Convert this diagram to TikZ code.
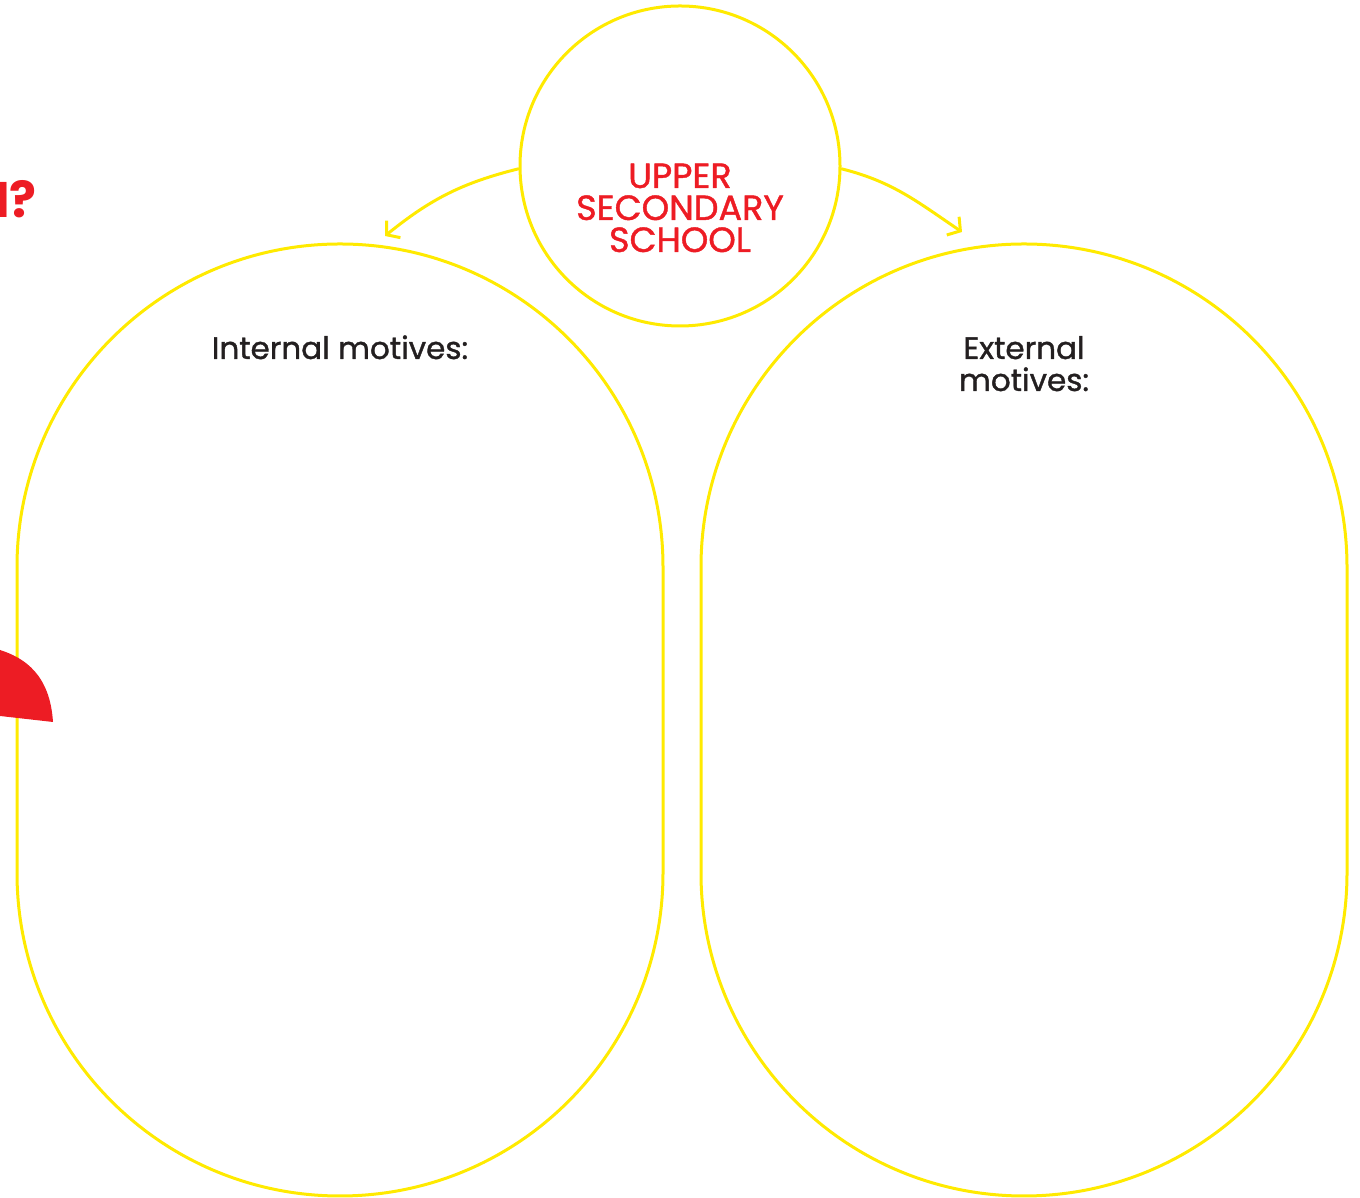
\documentclass[tikz,border=0pt]{standalone}
\usepackage{fontspec}
\setmainfont{Poppins}
\newfontfamily\labelfont{Poppins}[FakeBold=1.2]
\usetikzlibrary{arrows.meta}
\definecolor{signyellow}{HTML}{FFEA00}
\definecolor{signred}{HTML}{ED1C24}
\definecolor{inktext}{HTML}{231F20}
\begin{document}
\begin{tikzpicture}[x=1pt, y=1pt, line join=round, line cap=round,
		ring/.style={draw=signyellow, line width=3pt},
		motivebox/.style={ring, rectangle, rounded corners=323pt, minimum width=646pt, minimum height=952pt, inner sep=0pt},
		link/.style={draw=signyellow, line width=3pt, -{Straight Barb[length=9pt, width=22pt, line width=3pt]}},
		boxlabel/.style={text=inktext, font=\labelfont\fontsize{31}{32}\selectfont, align=center, anchor=base}]
	\useasboundingbox (0,0) rectangle (1360,1198);
	% the two big boxes
	\node [motivebox] (internal) at (340,478) {};
	\node [motivebox] (external) at (1024,478) {};
	% circle in the middle
	\node [ring, circle, minimum size=320pt, inner sep=0pt] (school) at (680,1032) {};
	\node [boxlabel, text=signred, font=\labelfont\fontsize{35}{32}\selectfont] (schooltext) at (680,946) {UPPER\\SECONDARY\\SCHOOL};
	\coordinate (lefttip) at (385,962);
	\coordinate (righttip) at (962,966);
	\draw [link] (school.181) to [out=194, in=39] (lefttip);
	\draw [link] (school.-1) to [out=-14, in=146] (righttip);
	% labels
	\node [boxlabel] (internaltext) at (340,839) {Internal motives:};
	\node [boxlabel] (externaltext) at (1024,807) {External\\motives:};
	% bits cut off at the left edge
	\node [text=signred, font=\fontsize{50}{50}\selectfont\bfseries, anchor=base east, inner sep=0pt] (question) at (37,980) {N?};
	\fill [signred] (0,548) .. controls (25,540) and (50,523) .. (53,476) -- (0,482) -- cycle;
\end{tikzpicture}
\end{document}
